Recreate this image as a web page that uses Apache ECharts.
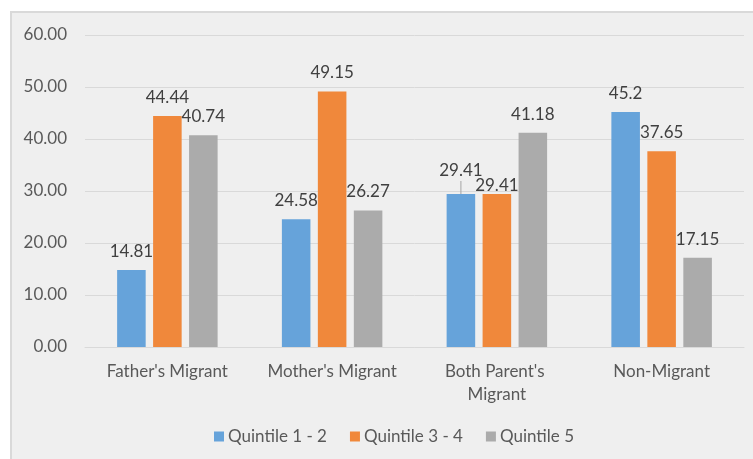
<!DOCTYPE html>
<html>
<head>
<meta charset="utf-8">
<script src="https://cdn.jsdelivr.net/npm/echarts@6/dist/echarts.min.js"></script>
<style>
    html, body { margin: 0; padding: 0; background: #fff; }
    .panel {
        position: absolute; left: 10px; top: 11px; width: 760px; height: 470px;
        background: #efefef; border: 2px solid #d9d9d9; box-sizing: border-box;
    }
    #chart { position: absolute; left: 0; top: 0; width: 753px; height: 459px; }
</style>
</head>
<body>
<div class="panel"></div>
<div id="chart"></div>
<script>
const categories = ["Father's Migrant", "Mother's Migrant", "Both Parent's Migrant", 'Non-Migrant']
const seriesNames = ['Quintile 1 - 2', 'Quintile 3 - 4', 'Quintile 5']
const quintile12 = [14.81, 24.58, 29.41, 45.2]
const quintile34 = [44.44, 49.15, 29.41, 37.65]
const quintile5 = [40.74, 26.27, 41.18, 17.15]
const colors = ['#66a3da', '#f0883b', '#ababab']

const font = 'Lato'
const fs = 17
const labelText = { color: '#404040', fontSize: fs, fontFamily: font }

// the two 29.41 labels overlap, so one goes up with a leader line, one goes down
function withLabels(values, si) {
    return values.map(function (v, i) {
        if (si === 0 && i === 2) {
            return {
                value: v,
                label: {
                    distance: 0,
                    formatter: function (p) { return '{v|' + p.value + '}\n{l|}' },
                    rich: {
                        v: { color: '#404040', fontSize: fs, fontFamily: font, lineHeight: 22 },
                        l: { width: 1, height: 13, backgroundColor: '#a6a6a6' }
                    }
                }
            }
        }
        if (si === 1 && i === 2) {
            return { value: v, label: { distance: 0 } }
        }
        return v
    })
}

var myChart = echarts.init(document.getElementById('chart'))
const option = {
    backgroundColor: 'transparent',
    color: colors,
    grid: { left: 85, right: 9, top: 35, bottom: 112 },
    legend: {
        bottom: 9,
        left: 209,
        icon: 'rect',
        itemWidth: 10,
        itemHeight: 10,
        itemGap: 23,
        textStyle: { color: '#595959', fontSize: fs, fontFamily: font, padding: [0, 0, 0, -1] },
        data: seriesNames
    },
    xAxis: {
        type: 'category',
        data: categories,
        axisLine: { lineStyle: { color: '#d9d9d9', width: 1 } },
        axisTick: { show: false },
        axisLabel: {
            color: '#595959',
            fontSize: fs,
            fontFamily: font,
            margin: 13,
            lineHeight: 23,
            interval: 0,
            width: 150,
            overflow: 'break'
        }
    },
    yAxis: {
        type: 'value',
        min: 0,
        max: 60,
        interval: 10,
        axisLine: { show: false },
        axisTick: { show: false },
        splitLine: { lineStyle: { color: '#d9d9d9', width: 1 } },
        axisLabel: {
            color: '#595959',
            fontSize: fs,
            fontFamily: font,
            margin: 18,
            formatter: function (v) { return v.toFixed(2) }
        }
    },
    series: [quintile12, quintile34, quintile5].map(function (vals, si) {
        return {
            name: seriesNames[si],
            type: 'bar',
            data: withLabels(vals, si),
            barGap: '26%',
            barCategoryGap: '39%',
            label: Object.assign({ show: true, position: 'top', distance: 10 }, labelText)
        }
    })
}
myChart.setOption(option)
</script>
</body>
</html>
